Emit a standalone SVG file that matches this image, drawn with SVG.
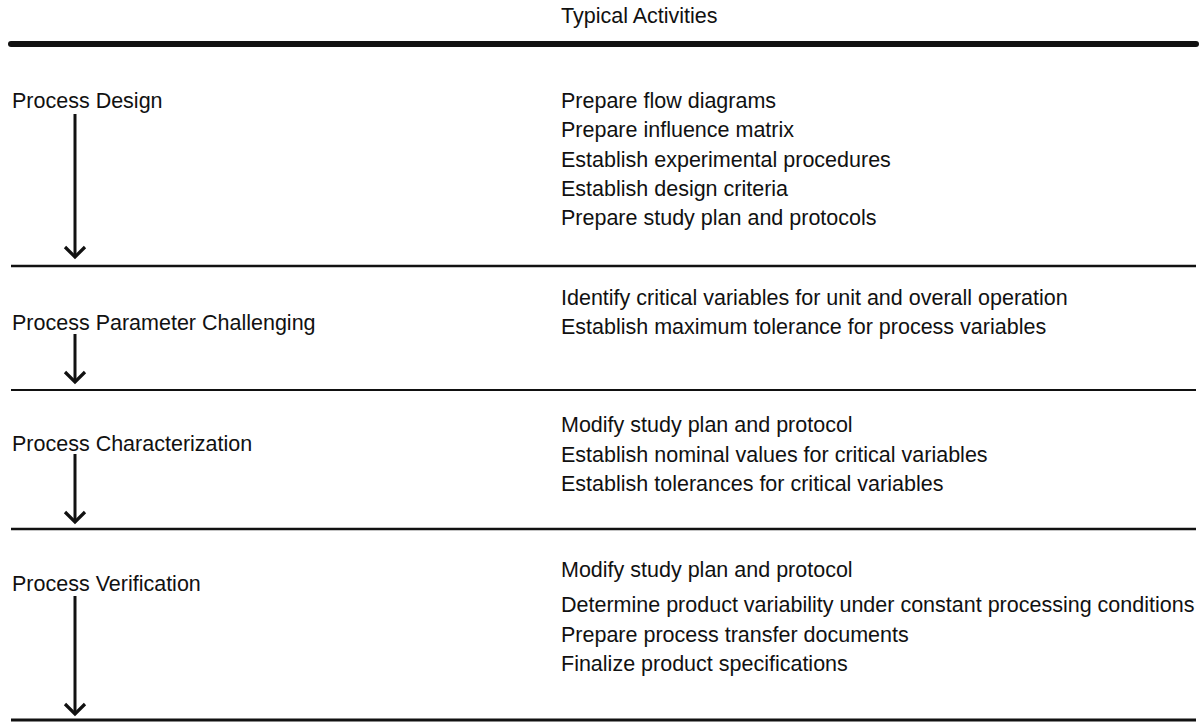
<svg xmlns="http://www.w3.org/2000/svg" width="1199" height="722" viewBox="0 0 1199 722">
<defs>
<style>
text{font-family:"Liberation Sans",Arial,sans-serif;font-size:21.5px;fill:#111}
.rule{stroke:#111;fill:none}
.shaft{stroke:#111;stroke-width:3;fill:none}
.head{stroke:#111;stroke-width:3.2;fill:none;stroke-linejoin:miter}
</style>
</defs>
<rect width="1199" height="722" fill="#fff"/>
<text x="561" y="23">Typical Activities</text>
<g id="rules">
<line class="rule" x1="11" y1="44" x2="1196" y2="44" stroke-width="6" stroke-linecap="round"/>
<line class="rule" x1="11" y1="266" x2="1196" y2="266" stroke-width="2.5"/>
<line class="rule" x1="11" y1="390" x2="1196" y2="390" stroke-width="2.2"/>
<line class="rule" x1="11" y1="529" x2="1196" y2="529" stroke-width="2.5"/>
<line class="rule" x1="11" y1="720" x2="1196" y2="720" stroke-width="3"/>
</g>
<g id="connectors">
<line class="shaft" x1="75" y1="114" x2="75" y2="256"/>
<polyline class="head" points="65,247 75,257 85,247"/>
<line class="shaft" x1="75" y1="334" x2="75" y2="381"/>
<polyline class="head" points="65,372 75,382 85,372"/>
<line class="shaft" x1="75" y1="454" x2="75" y2="521"/>
<polyline class="head" points="65,512 75,522 85,512"/>
<line class="shaft" x1="75" y1="596" x2="75" y2="713"/>
<polyline class="head" points="65,704 75,714 85,704"/>
</g>
<g id="stage-design">
<text x="12" y="108">Process Design</text>
<text x="561" y="108">Prepare flow diagrams</text>
<text x="561" y="137">Prepare influence matrix</text>
<text x="561" y="167">Establish experimental procedures</text>
<text x="561" y="196">Establish design criteria</text>
<text x="561" y="225">Prepare study plan and protocols</text>
</g>
<g id="stage-parameter">
<text x="12" y="330">Process Parameter Challenging</text>
<text x="561" y="305">Identify critical variables for unit and overall operation</text>
<text x="561" y="334">Establish maximum tolerance for process variables</text>
</g>
<g id="stage-characterization">
<text x="12" y="451">Process Characterization</text>
<text x="561" y="432">Modify study plan and protocol</text>
<text x="561" y="462">Establish nominal values for critical variables</text>
<text x="561" y="491">Establish tolerances for critical variables</text>
</g>
<g id="stage-verification">
<text x="12" y="591">Process Verification</text>
<text x="561" y="577">Modify study plan and protocol</text>
<text x="561" y="612">Determine product variability under constant processing conditions</text>
<text x="561" y="642">Prepare process transfer documents</text>
<text x="561" y="671">Finalize product specifications</text>
</g>
</svg>
